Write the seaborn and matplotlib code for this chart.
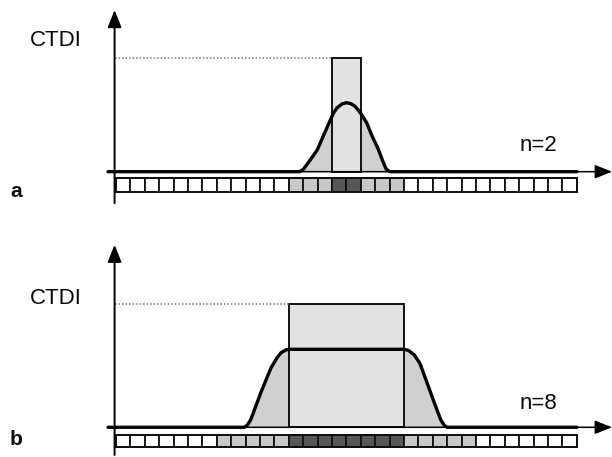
import numpy as np
import pandas as pd
import seaborn as sns
import matplotlib
matplotlib.use("Agg")
import matplotlib.pyplot as plt

sns.set_style("white")
plt.rcParams['font.family'] = ['Liberation Sans', 'DejaVu Sans']

# ---------------- data ----------------
# detector-row shading: 0 = white, 1 = light grey (penumbra), 2 = dark (active rows)
cells_a = [0] * 12 + [1] * 3 + [2] * 2 + [1] * 3 + [0] * 12
cells_b = [0] * 7 + [1] * 5 + [2] * 8 + [1] * 5 + [0] * 7

# dose profiles (x in detector-row units, y relative to CTDI)
prof_a_x = [-0.55, 12.75, 13.0, 13.3, 13.97, 14.66, 15.08, 15.35, 15.7, 16.0,
            16.3, 16.6, 16.95, 17.4, 17.79, 18.2, 18.5, 18.75, 19.0, 32.0]
prof_a_y = [0.0, 0.0, 0.02, 0.07, 0.19, 0.39, 0.51, 0.56, 0.595, 0.605,
            0.597, 0.573, 0.52, 0.43, 0.31, 0.2, 0.1, 0.025, 0.0, 0.0]

prof_b_x = [-0.55, 8.9, 9.1, 9.35, 10.05, 10.75, 11.15, 11.45, 11.8, 12.1,
            20.0, 20.3, 20.7, 21.1, 21.4, 22.1, 22.55, 22.8, 23.0, 32.0]
prof_b_y = [0.0, 0.0, 0.015, 0.06, 0.28, 0.48, 0.56, 0.605, 0.63, 0.634,
            0.634, 0.625, 0.59, 0.52, 0.425, 0.2, 0.06, 0.015, 0.0, 0.0]

# CTDI rectangle (collimated width) and level
ctdi_level = 1.0
rect_a = (15, 17)
rect_b = (12, 20)

labels = {"ylabel": "CTDI", "n_a": "n=2", "n_b": "n=8", "pa": "a", "pb": "b"}

shade_colors = {0: "#ffffff", 1: "#c8c8c8", 2: "#575757"}

# ---------------- figure ----------------
W, H = 612, 457
fig = plt.figure(figsize=(W / 100, H / 100), dpi=100)
fig.patch.set_facecolor("white")


def panel(ax, cells, px, py, rect, nlabel, plabel, strip, ylims,
          ctdi_y, n_y, p_y, yaxis_rng):
    ax.set_xlim(-8.056, 34.44)
    ax.set_ylim(*ylims)
    ax.axis("off")

    # fill under dose profile
    ax.fill_between(px, py, 0, color="#d0d0d0", lw=0, zorder=1)
    # CTDI rectangle
    ax.bar([(rect[0] + rect[1]) / 2], [ctdi_level], width=rect[1] - rect[0],
           bottom=0, color="#e2e2e2", edgecolor="#111111", linewidth=1.4, zorder=2)
    # dotted reference line
    ax.plot([-0.1, rect[0]], [ctdi_level, ctdi_level], linestyle=(0, (1, 1.3)),
            color="#7a7a7a", lw=1.1, zorder=2)
    # x axis arrow
    ax.annotate("", xy=(34.44, 0), xytext=(-0.555, 0),
                arrowprops=dict(arrowstyle="-|>,head_length=0.75,head_width=0.3",
                                color="black", lw=1.1, mutation_scale=14,
                                shrinkA=0, shrinkB=0), zorder=3)
    # dose profile line
    df = pd.DataFrame({"x": px, "y": py})
    sns.lineplot(data=df, x="x", y="y", ax=ax, color="black", linewidth=2.4,
                 sort=False, estimator=None, zorder=4)
    ax.set_xlabel("")
    ax.set_ylabel("")
    # y axis arrow
    ax.annotate("", xy=(-0.1, yaxis_rng[1]), xytext=(-0.1, yaxis_rng[0]),
                arrowprops=dict(arrowstyle="-|>,head_length=0.75,head_width=0.3",
                                color="black", lw=1.4, mutation_scale=14,
                                shrinkA=0, shrinkB=0), zorder=5)
    # detector strip
    y0, h = strip
    xs = np.arange(len(cells)) + 0.5
    ax.bar(xs, [h] * len(cells), width=1.0, bottom=y0,
           color=[shade_colors[c] for c in cells], edgecolor="#111111",
           linewidth=1.3, zorder=3)
    ax.add_patch(plt.Rectangle((0, y0), len(cells), h, fill=False,
                               edgecolor="#111111", lw=1.4, zorder=4))
    # texts
    ax.text(-4.2, ctdi_y, labels["ylabel"], fontsize=16, ha="center",
            va="center", color="#0a0a0a")
    ax.text(29.3, n_y, nlabel, fontsize=16, ha="center", va="center",
            color="#0a0a0a")
    ax.text(-6.95, p_y, plabel, fontsize=15, fontweight="bold", ha="center",
            va="center", color="#0a0a0a")


ax_a = fig.add_axes([0, 1 - 228 / H, 1, 228 / H])
panel(ax_a, cells_a, prof_a_x, prof_a_y, rect_a, labels["n_a"], labels["pa"],
      strip=(-0.175, 0.117), ylims=(-0.494, 1.506), ctdi_y=1.149, n_y=0.234,
      p_y=-0.178, yaxis_rng=(-0.276, 1.418))

ax_b = fig.add_axes([0, 0, 1, 229 / H])
panel(ax_b, cells_b, prof_b_x, prof_b_y, rect_b, labels["n_b"], labels["pb"],
      strip=(-0.163, 0.1), ylims=(-0.2415, 1.620), ctdi_y=1.047, n_y=0.19,
      p_y=-0.103, yaxis_rng=(-0.225, 1.484))

fig.savefig("out.png", dpi=100, facecolor="white")
